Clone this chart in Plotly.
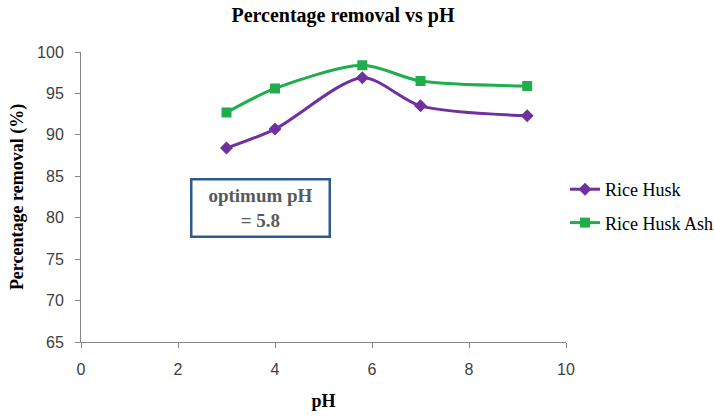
import plotly.graph_objects as go

ph = [3, 4, 5.8, 7, 9.2]
rice_husk = [88.4, 90.7, 96.9, 93.5, 92.3]
rice_husk_ash = [92.7, 95.6, 98.4, 96.5, 95.9]
x_ticks = [0, 2, 4, 6, 8, 10]
y_ticks = [65, 70, 75, 80, 85, 90, 95, 100]

fig = go.Figure()
fig.add_trace(go.Scatter(x=ph, y=rice_husk, name="Rice Husk", mode="lines+markers", legendgroup="a",
                         line=dict(color="#7030a0", width=3, shape="spline", smoothing=0.8),
                         marker=dict(symbol="diamond", size=10, color="#7030a0")))
fig.add_trace(go.Scatter(x=ph, y=rice_husk_ash, name="Rice Husk Ash", mode="lines+markers", legendgroup="b",
                         line=dict(color="#1fae4b", width=3, shape="spline", smoothing=0.8),
                         marker=dict(symbol="square", size=10, color="#1fae4b")))

serif = "Liberation Serif, Times New Roman"
axis_font = dict(family="Liberation Sans, Arial", size=16, color="#404040")
L, R, T, B = 81, 566, 52, 342
fig.update_layout(
    width=714, height=417,
    margin=dict(l=L, r=714 - R, t=T, b=417 - B, autoexpand=False),
    paper_bgcolor="white", plot_bgcolor="white",
    title=dict(text="<b>Percentage removal vs pH</b>", x=343 / 714, xref="container", xanchor="center",
               y=1 - 15 / 417, yref="container", yanchor="middle", automargin=False,
               font=dict(family=serif, size=20, color="black")),
    xaxis=dict(range=[0, 10], tickvals=x_ticks, showgrid=False, zeroline=False, automargin=False,
               showline=True, linecolor="#868686", linewidth=1, ticks="outside", ticklen=5,
               tickcolor="#868686", tickfont=axis_font, ticklabelstandoff=8,
               title=dict(text="<b>pH</b>", standoff=17,
                          font=dict(family=serif, size=18, color="black"))),
    yaxis=dict(range=[65, 100], tickvals=y_ticks, showgrid=False, zeroline=False, automargin=False,
               showline=True, linecolor="#868686", linewidth=1, ticks="outside", ticklen=5,
               tickcolor="#868686", tickfont=axis_font, ticklabelstandoff=8,
               title=dict(text="<b>Percentage removal (%)</b>", standoff=8,
                          font=dict(family=serif, size=18, color="black"))),
    legend=dict(x=(565 - L) / (R - L), y=(B - 206) / (B - T), xanchor="left", yanchor="middle",
                tracegroupgap=7, font=dict(family=serif, size=18, color="black"),
                itemwidth=30),
    showlegend=True,
)
fig.add_annotation(xref="paper", yref="paper", x=(260 - L) / (R - L), y=(B - 207.5) / (B - T),
                   text="<b>optimum pH<br>= 5.8</b>", showarrow=False,
                   font=dict(family=serif, size=19, color="#5a5a5a"),
                   bordercolor="#2f5b8a", borderwidth=2.5, borderpad=4, bgcolor="white",
                   width=128, height=47, align="center")
fig.write_html("out.html", config={"displayModeBar": False},
               post_script="document.body.style.margin='0';")
